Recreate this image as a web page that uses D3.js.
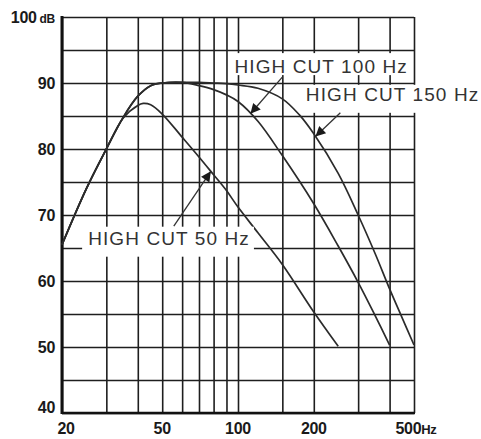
<!DOCTYPE html>
<html lang="en">
	<head>
		<meta charset="utf-8">
		<title>High cut filter response</title>
		<script type="text/javascript" src="https://cdn.jsdelivr.net/npm/d3@7"></script>
		<style type="text/css">
			body {
				margin: 0;
				background-color: #ffffff;
			}
			svg {
				display: block;
			}
		</style>
	</head>
	<body>

		<script type="text/javascript">

			//Width and height
			var w = 481;
			var h = 439;

			//Grid and tick values
			var freqGrid = [20, 30, 40, 50, 60, 70, 80, 90, 100, 150, 200, 300, 400, 500];
			var dbGrid = [40, 45, 50, 55, 60, 65, 70, 75, 80, 85, 90, 95, 100];
			var freqLabels = [20, 50, 100, 200, 500];
			var dbLabels = [40, 50, 60, 70, 80, 90, 100];

			//HIGH CUT 50 Hz
			var freq50 = [20, 25, 30, 35, 40, 42, 45, 50, 60, 70, 80, 90, 100, 120, 150, 200, 250];
			var db50 = [65.5, 74, 80, 84.7, 86.6, 86.9, 86.7, 85.3, 81.8, 78.8, 76.1, 73.7, 71.2, 67.3, 62.5, 55.3, 50.1];

			//HIGH CUT 100 Hz
			var freq100 = [20, 25, 30, 35, 40, 45, 50, 60, 70, 80, 90, 100, 120, 150, 200, 250, 300, 350, 400];
			var db100 = [65.5, 74, 80, 84.8, 88, 89.6, 90, 90.1, 89.6, 89, 88.2, 87.2, 84.2, 79, 71.7, 65.3, 59.8, 54.8, 50.3];

			//HIGH CUT 150 Hz
			var freq150 = [20, 25, 30, 35, 40, 45, 50, 60, 70, 80, 90, 100, 120, 150, 175, 200, 250, 300, 350, 400, 450, 500];
			var db150 = [65.5, 74, 80, 84.8, 88, 89.6, 90, 90.1, 90.1, 90, 89.9, 89.7, 89.2, 87.6, 85.2, 82.3, 76.3, 70, 64.2, 58.8, 54.3, 50.3];

			//Callout names
			var cutNames = ["HIGH CUT 50 Hz", "HIGH CUT 100 Hz", "HIGH CUT 150 Hz"];

			var curves = [
				{ name: cutNames[0], f: freq50, db: db50 },
				{ name: cutNames[1], f: freq100, db: db100 },
				{ name: cutNames[2], f: freq150, db: db150 }
			];

			//Scales
			var xScale = d3.scaleLog()
							.domain([20, 500])
							.range([62, 414]);

			var yScale = d3.scaleLinear()
							.domain([40, 100])
							.range([413, 17]);

			//log-linear lookup on a curve, used for the arrow tips
			var dbAt = function(fs, dbs, f) {
				for (var i = 1; i < fs.length; i++) {
					if (f <= fs[i]) {
						var t = (Math.log(f) - Math.log(fs[i-1])) / (Math.log(fs[i]) - Math.log(fs[i-1]));
						return dbs[i-1] + t * (dbs[i] - dbs[i-1]);
					}
				}
				return dbs[dbs.length - 1];
			};

			//Create SVG element
			var svg = d3.select("body")
						.append("svg")
						.attr("width", w)
						.attr("height", h);

			//Vertical grid
			svg.append("g")
				.attr("transform", "translate(0," + yScale(40) + ")")
				.call(d3.axisBottom(xScale)
					.tickValues(freqGrid)
					.tickSize(-(yScale(40) - yScale(100)))
					.tickSizeOuter(0)
					.tickFormat(""))
				.call(function(g) {
					g.select(".domain").remove();
					g.selectAll(".tick line")
						.attr("stroke", "#1e1e1e")
						.attr("stroke-width", 1.6);
				});

			//Horizontal grid
			svg.append("g")
				.attr("transform", "translate(" + xScale(20) + ",0)")
				.call(d3.axisLeft(yScale)
					.tickValues(dbGrid)
					.tickSize(-(xScale(500) - xScale(20)))
					.tickSizeOuter(0)
					.tickFormat(""))
				.call(function(g) {
					g.select(".domain").remove();
					g.selectAll(".tick line")
						.attr("stroke", "#1e1e1e")
						.attr("stroke-width", 1.6);
				});

			//Heavier left and bottom frame
			svg.append("line")
				.attr("x1", xScale(20)).attr("x2", xScale(20))
				.attr("y1", yScale(100) - 1).attr("y2", yScale(40) + 1)
				.attr("stroke", "#111")
				.attr("stroke-width", 3);
			svg.append("line")
				.attr("x1", xScale(20)).attr("x2", xScale(500) + 1)
				.attr("y1", yScale(40)).attr("y2", yScale(40))
				.attr("stroke", "#111")
				.attr("stroke-width", 2.4);

			//Curves
			var line = d3.line()
						.x(function(d) { return xScale(d[0]); })
						.y(function(d) { return yScale(d[1]); })
						.curve(d3.curveCatmullRom.alpha(0.5));

			svg.selectAll("path.curve")
				.data(curves)
				.enter()
				.append("path")
				.attr("class", "curve")
				.attr("d", function(c) {
					return line(c.f.map(function(f, i) { return [f, c.db[i]]; }));
				})
				.attr("fill", "none")
				.attr("stroke", "#2b2b2b")
				.attr("stroke-width", 1.7);

			//Y labels
			var yText = svg.append("g")
				.attr("font-family", "'Liberation Sans', Arial, Helvetica, sans-serif")
				.attr("font-weight", "bold")
				.attr("font-size", "16px")
				.attr("fill", "#1a1a1a");

			yText.selectAll("text")
				.data(dbLabels)
				.enter()
				.append("text")
				.attr("x", xScale(20) - 7)
				.attr("y", function(d) { return yScale(d) + (d == 40 ? 0 : 6); })
				.attr("text-anchor", "end")
				.attr("letter-spacing", "-0.3")
				.each(function(d) {
					var t = d3.select(this);
					t.append("tspan").text(d);
					if (d == 100) {
						t.append("tspan").attr("dx", 3).attr("font-size", "12px").text("dB");
					}
				});

			//X labels
			var xText = svg.append("g")
				.attr("font-family", "'Liberation Sans', Arial, Helvetica, sans-serif")
				.attr("font-weight", "bold")
				.attr("font-size", "16px")
				.attr("fill", "#1a1a1a");

			xText.selectAll("text")
				.data(freqLabels)
				.enter()
				.append("text")
				.attr("x", function(d) { return xScale(d) + (d == 20 ? 4 : (d == 500 ? 2 : 0)); })
				.attr("y", 434)
				.attr("text-anchor", "middle")
				.attr("letter-spacing", "-0.3")
				.each(function(d) {
					var t = d3.select(this);
					t.append("tspan").text(d);
					if (d == 500) {
						t.append("tspan").attr("font-size", "13px").text("Hz");
					}
				});

			//Callouts: text spot, arrow tail, arrow tip (in Hz / dB)
			var callouts = [
				{ c: 0, tf: 25.4, tdb: 65.5, af: 55.6, adb: 68.3, hf: 78, pt: 1, pb: 8 },
				{ c: 1, tf: 96.8, tdb: 91.5, af: 150, adb: 90.9, hf: 112, pt: 3, pb: -2 },
				{ c: 2, tf: 186, tdb: 87.3, af: 255, adb: 85.5, hf: 203, pt: -1, pb: 8 }
			];

			//Arrow head
			svg.append("defs")
				.append("marker")
				.attr("id", "head")
				.attr("viewBox", "0 0 10 10")
				.attr("refX", 10)
				.attr("refY", 5)
				.attr("markerUnits", "userSpaceOnUse")
				.attr("markerWidth", 13)
				.attr("markerHeight", 10)
				.attr("orient", "auto")
				.append("path")
				.attr("d", "M0,0 L10,5 L0,10 Z")
				.attr("fill", "#1a1a1a");

			var cg = svg.selectAll("g.callout")
				.data(callouts)
				.enter()
				.append("g")
				.attr("class", "callout");

			var boxes = cg.append("rect").attr("fill", "#ffffff");

			var labels = cg.append("text")
				.attr("x", function(d) { return xScale(d.tf); })
				.attr("y", function(d) { return yScale(d.tdb); })
				.attr("font-family", "'Liberation Sans', Arial, Helvetica, sans-serif")
				.attr("font-size", "19px")
				.attr("letter-spacing", "1.1")
				.attr("fill", "#333")
				.text(function(d) { return curves[d.c].name; });

			labels.each(function(d) {
				var bb = this.getBBox();
				d.bb = bb;
			});

			boxes
				.attr("x", function(d) { return d.bb.x - 6; })
				.attr("y", function(d) { return d.bb.y - d.pt; })
				.attr("width", function(d) { return d.bb.width + 10; })
				.attr("height", function(d) { return d.bb.height + d.pt + d.pb; });

			cg.append("line")
				.attr("x1", function(d) { return xScale(d.af); })
				.attr("y1", function(d) { return yScale(d.adb); })
				.attr("x2", function(d) { return xScale(d.hf); })
				.attr("y2", function(d) {
					var c = curves[d.c];
					return yScale(dbAt(c.f, c.db, d.hf));
				})
				.attr("stroke", "#333")
				.attr("stroke-width", 1.3)
				.attr("marker-end", "url(#head)");

		</script>
	</body>
</html>
